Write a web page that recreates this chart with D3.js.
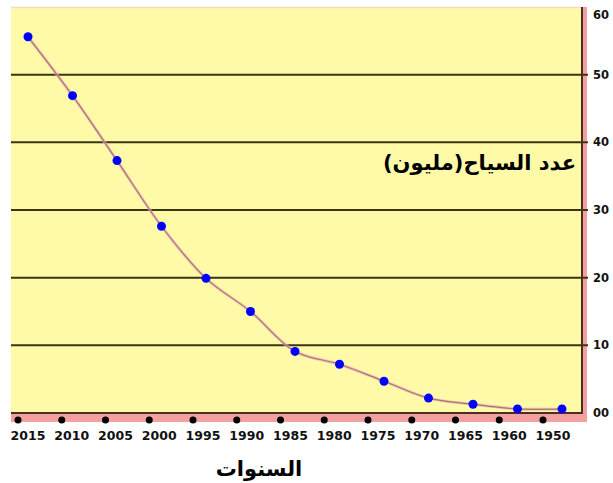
<!DOCTYPE html>
<html>
<head>
<meta charset="utf-8">
<script src="https://cdn.jsdelivr.net/npm/d3@7"></script>
<style>
  body { margin: 0; background: #fff; }
  svg { display: block; }
</style>
</head>
<body>
<svg id="chart" width="613" height="483"></svg>
<script>
// years shown on the x axis (right to left order as in the picture)
var years = ["2015", "2010", "2005", "2000", "1995", "1990", "1985", "1980", "1975", "1970", "1965", "1960", "1950"];
// tourists (millions), one per year above
var tourists = [55.6, 46.9, 37.3, 27.6, 19.9, 15.0, 9.1, 7.2, 4.7, 2.2, 1.3, 0.6, 0.6];
var yTicks = [0, 10, 20, 30, 40, 50, 60];
var yTickLabels = ["00", "10", "20", "30", "40", "50", "60"];

var svg = d3.select("svg#chart");

var plot = { left: 11, right: 582, top: 7, bottom: 413 };

var y = d3.scaleLinear().domain([0, 60]).range([plot.bottom, plot.top]);

// points and axis dots don't line up in the original, so two scales
var xPts = d3.scalePoint().domain(d3.range(years.length)).range([28, 562]);
var xAxis = d3.scalePoint().domain(years).range([18, 543]);

// red frame strips (right + bottom)
svg.append("rect")
  .attr("x", plot.left).attr("y", plot.top)
  .attr("width", plot.right - plot.left + 5).attr("height", plot.bottom - plot.top + 9)
  .style("fill", "#f5a0a0");

// plot background
svg.append("rect")
  .attr("x", plot.left).attr("y", plot.top)
  .attr("width", plot.right - plot.left).attr("height", plot.bottom - plot.top)
  .style("fill", "#fffaa8");

svg.append("line")
  .attr("x1", plot.left).attr("x2", plot.right)
  .attr("y1", plot.top + 0.5).attr("y2", plot.top + 0.5)
  .style("stroke", "#f8d8c0").style("stroke-width", 1.5);

// gridlines
svg.append("g").selectAll("line")
  .data(yTicks.filter(function (d) { return d > 0 && d < 60; }))
  .enter().append("line")
  .attr("x1", plot.left).attr("x2", plot.right + 6)
  .attr("y1", function (d) { return y(d); })
  .attr("y2", function (d) { return y(d); })
  .style("stroke", "#3a3512").style("stroke-width", 2);

// frame lines
svg.append("line")
  .attr("x1", plot.right).attr("x2", plot.right)
  .attr("y1", plot.top).attr("y2", plot.bottom + 1)
  .style("stroke", "#4a3020").style("stroke-width", 2);
svg.append("line")
  .attr("x1", plot.left).attr("x2", plot.right)
  .attr("y1", plot.bottom).attr("y2", plot.bottom)
  .style("stroke", "#4a3020").style("stroke-width", 2);

// y labels on the right
svg.append("g").selectAll("text")
  .data(yTicks)
  .enter().append("text")
  .attr("x", 593)
  .attr("y", function (d) { return Math.min(Math.max(y(d) + 4, 19), 426); })
  .text(function (d, i) { return yTickLabels[i]; })
  .style("font-family", "DejaVu Sans")
  .style("font-weight", "bold")
  .style("font-size", "11.5px")
  .style("fill", "#111");

// x axis dots + labels
svg.append("g").selectAll("circle")
  .data(years)
  .enter().append("circle")
  .attr("cx", function (d) { return xAxis(d); })
  .attr("cy", 420)
  .attr("r", 3.5)
  .style("fill", "#000");

svg.append("g").selectAll("text")
  .data(years)
  .enter().append("text")
  .attr("x", function (d) { return xAxis(d) + 10; })
  .attr("y", 440)
  .attr("text-anchor", "middle")
  .text(function (d) { return d; })
  .style("font-family", "DejaVu Sans")
  .style("font-weight", "bold")
  .style("font-size", "12.5px")
  .style("fill", "#111");

// the curve
var line = d3.line()
  .x(function (d, i) { return xPts(i); })
  .y(function (d) { return y(d); })
  .curve(d3.curveCatmullRom);

svg.append("path")
  .attr("d", line(tourists))
  .style("fill", "none")
  .style("stroke", "#f4a6c8")
  .style("stroke-width", 3)
  .style("opacity", 0.7);

svg.append("path")
  .attr("d", line(tourists))
  .style("fill", "none")
  .style("stroke", "#a07a62")
  .style("stroke-width", 1.2);

svg.append("g").selectAll("circle")
  .data(tourists)
  .enter().append("circle")
  .attr("cx", function (d, i) { return xPts(i); })
  .attr("cy", function (d) { return y(d); })
  .attr("r", 4.5)
  .style("fill", "#0000ff");

// titles
svg.append("text")
  .attr("x", 576)
  .attr("y", 170)
  .attr("direction", "rtl")
  .attr("text-anchor", "start")
  .text("عدد السياح(مليون)")
  .style("font-family", "DejaVu Sans")
  .style("font-weight", "bold")
  .style("font-size", "21px")
  .style("fill", "#000");

svg.append("text")
  .attr("x", 259)
  .attr("y", 476)
  .attr("text-anchor", "middle")
  .text("السنوات")
  .style("font-family", "DejaVu Sans")
  .style("font-weight", "bold")
  .style("font-size", "21px")
  .style("fill", "#000");
</script>
</body>
</html>
